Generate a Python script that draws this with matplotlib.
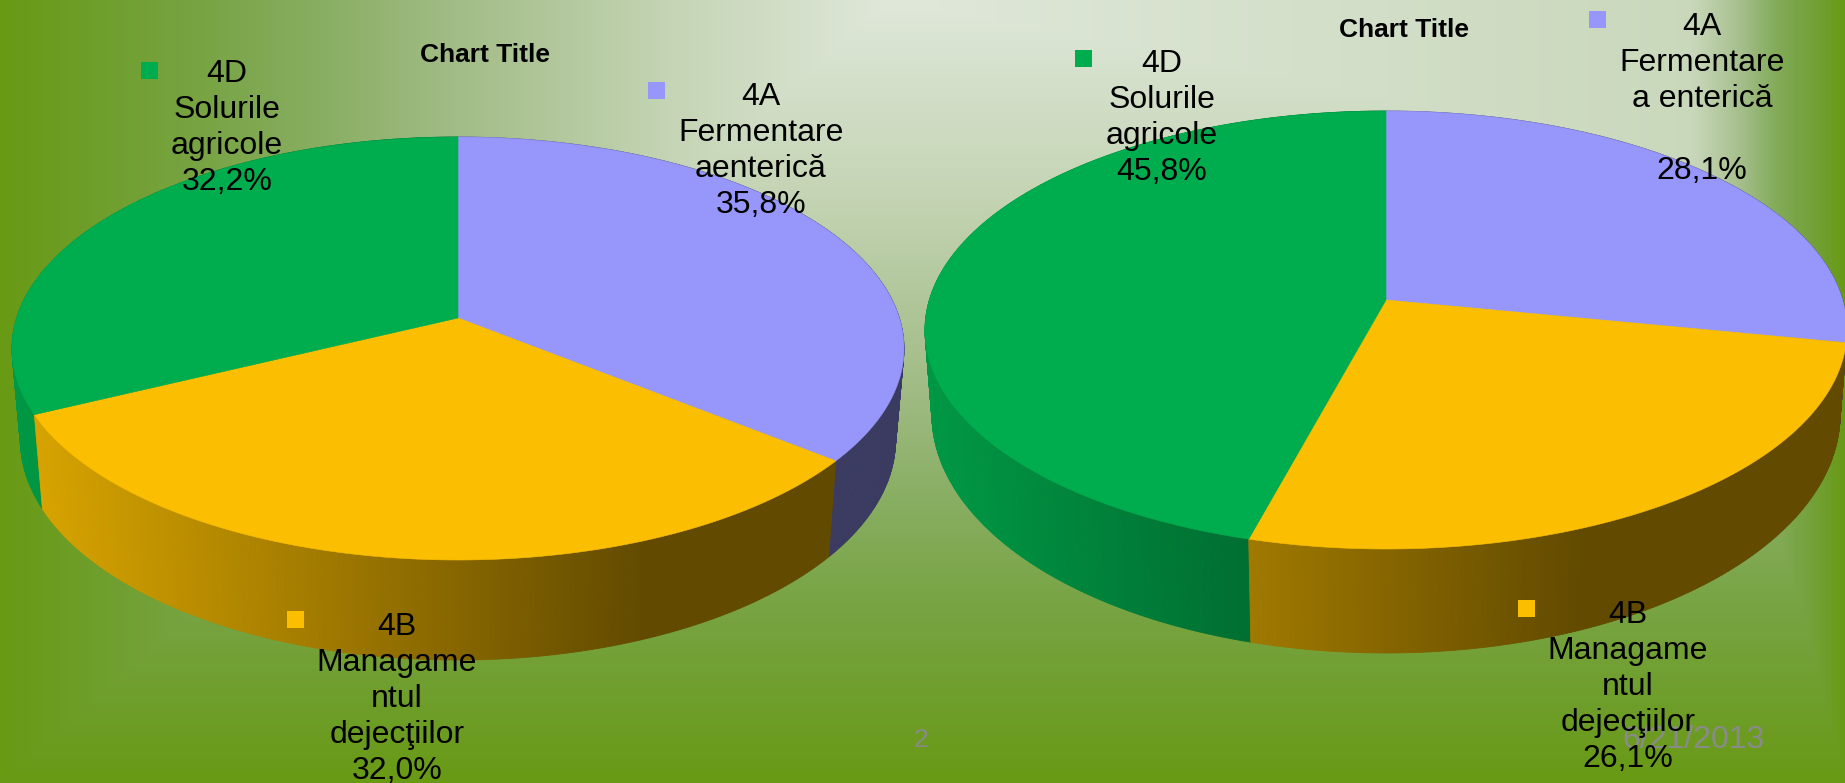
import numpy as np
import matplotlib
matplotlib.use("Agg")
import matplotlib.pyplot as plt
from matplotlib.patches import Polygon, Rectangle
from matplotlib.colors import to_rgb

# ---------- data ----------
categories = ["4A", "4B", "4D"]
left_values = [35.8, 32.0, 32.2]
right_values = [28.1, 26.1, 45.8]
left_names = ["Fermentare\naenterică", "Managame\nntul\ndejecţiilor", "Solurile\nagricole"]
right_names = ["Fermentare\na enterică\n", "Managame\nntul\ndejecţiilor", "Solurile\nagricole"]
colors = ["#9797FB", "#FBBE00", "#00AD4E"]
chart_title = "Chart Title"
slide_number = "2"
slide_date = "6/21/2013"

# ---------- layout (pixels) ----------
W, H = 1845, 783
FONT = "Liberation Sans"
left_pie = dict(x0=458, y0=318, top=137, bottom=560, halfw=446, floor=660, sx=0.981, sy=1.04)
right_pie = dict(x0=1386, y0=300, top=111, bottom=549, halfw=461, floor=653, sx=0.985, sy=1.09)
left_labels = [(761, 151, 648, 82), (397, 699, 287, 611), (227, 128, 141, 62)]
right_labels = [(1702, 99, 1589, 11), (1628, 687, 1518, 600), (1162, 118, 1075, 50)]

fig = plt.figure(figsize=(W / 100, H / 100), dpi=100)
ax = fig.add_axes([0, 0, 1, 1])
ax.set_xlim(0, W)
ax.set_ylim(H, 0)
ax.axis("off")

# ---------- background: rectangular path gradient ----------
xx, yy = np.meshgrid(np.arange(W) + 0.5, np.arange(H) + 0.5)
cx = 890.0
tx = np.where(xx < cx, (cx - xx) / cx, 0.0)
right_t = np.interp(xx, [cx, 1690, 1733, 1777, 1807, W], [0, 0.2, 0.42, 0.68, 0.8, 1.0])
tx = np.where(xx >= cx, right_t, tx)
ty = yy / H
t = np.maximum(tx, ty)
stops = [0, 0.25, 0.5, 0.64, 0.77, 0.9, 1]
rgb = [(224, 232, 218), (196, 212, 180), (160, 187, 132), (136, 174, 98),
       (120, 164, 68), (110, 158, 42), (104, 154, 20)]
bg = np.dstack([np.interp(t, stops, [c[i] for c in rgb]) for i in range(3)]) / 255
ax.imshow(bg, extent=(0, W, H, 0), aspect="auto", zorder=0, interpolation="bilinear")
ax.set_xlim(0, W)
ax.set_ylim(H, 0)


def shade(u):
    return np.clip(0.88 - (u + 1) * 0.345, 0.39, 0.9)


def draw_pie(values, p):
    up = p["y0"] - p["top"]
    dn = p["bottom"] - p["y0"]
    ratio = dn / up
    k = (ratio - 1) / (ratio + 1)
    b = up * (1 + k)
    a = p["halfw"] * np.sqrt(1 - k * k)

    def rim(theta):
        u, v = np.sin(theta), np.cos(theta)
        w = 1 + k * v
        return p["x0"] + a * u / w, p["y0"] - b * v / w

    def lower(x, y):
        return p["x0"] + (x - p["x0"]) * p["sx"], p["floor"] - (p["bottom"] - y) * p["sy"]

    edges = np.radians(np.concatenate([[0], np.cumsum(values)]) * 3.6)
    strips = []
    for i, col in enumerate(colors):
        n = max(int(np.degrees(edges[i + 1] - edges[i]) * 2), 2)
        th = np.linspace(edges[i], edges[i + 1], n + 1)
        xs, ys = rim(th)
        lx, ly = lower(xs, ys)
        base = np.array(to_rgb(col))
        for j in range(n):
            mx = (xs[j] + xs[j + 1]) / 2
            f = shade((mx - p["x0"]) / p["halfw"])
            poly = [(xs[j], ys[j]), (xs[j + 1], ys[j + 1]), (lx[j + 1], ly[j + 1]), (lx[j], ly[j])]
            strips.append(((ys[j] + ys[j + 1]) / 2, poly, base * f))
    strips.sort(key=lambda s: s[0])
    for _, poly, c in strips:
        ax.add_patch(Polygon(poly, closed=True, facecolor=c, edgecolor=c, lw=0.6, zorder=2))
    for i, col in enumerate(colors):
        th = np.linspace(edges[i], edges[i + 1], 300)
        xs, ys = rim(th)
        pts = np.vstack([[p["x0"], p["y0"]], np.column_stack([xs, ys])])
        ax.add_patch(Polygon(pts, closed=True, facecolor=col, edgecolor=col, lw=0.4, zorder=3))


def draw_labels(values, names, spots):
    for cat, val, name, col, (tx_, ty_, mx, my) in zip(categories, values, names, colors, spots):
        pct = f"{val:.1f}".replace(".", ",") + "%"
        ax.text(tx_, ty_, f"{cat}\n{name}\n{pct}", ha="center", va="center", multialignment="center",
                fontsize=23, family=FONT, color="black", linespacing=1.27, zorder=6)
        ax.add_patch(Rectangle((mx, my), 17, 17, facecolor=col, edgecolor="none", zorder=6))


draw_pie(left_values, left_pie)
draw_pie(right_values, right_pie)

ax.text(921, 740, slide_number, ha="center", va="center", fontsize=19, family=FONT, color="#8A8A8A", zorder=5)
ax.text(1694, 740, slide_date, ha="center", va="center", fontsize=23, family=FONT, color="#8A8A8A", zorder=5)

draw_labels(left_values, left_names, left_labels)
draw_labels(right_values, right_names, right_labels)

ax.text(485, 55, chart_title, ha="center", va="center", fontsize=19, family=FONT, weight="bold", color="black", zorder=6)
ax.text(1404, 30, chart_title, ha="center", va="center", fontsize=19, family=FONT, weight="bold", color="black", zorder=6)

fig.savefig("out.png", dpi=100)
